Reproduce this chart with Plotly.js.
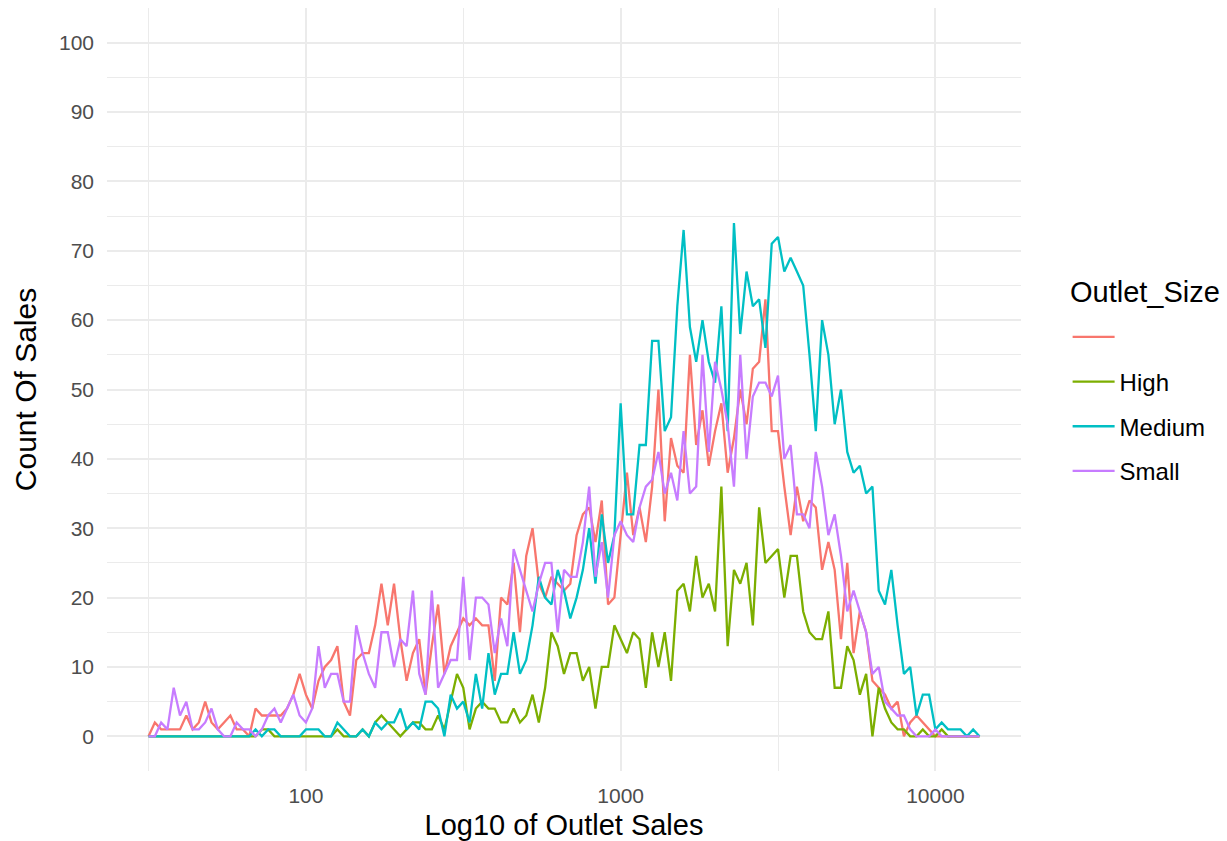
<!DOCTYPE html>
<html>
<head>
<meta charset="utf-8">
<script src="https://cdn.plot.ly/plotly-3.0.1.min.js"></script>
<style>html,body{margin:0;padding:0;background:#fff;}#chart{width:1227px;height:841px;}</style>
</head>
<body>
<div id="chart"></div>
<script>
// Frequency polygon of log10(Item_Outlet_Sales), binwidth 0.02 in log10 units
const binLogStart = 1.50;   // centre of first (empty padding) bin, log10 units
const binLogWidth = 0.02;

const outletSizes = ['', 'High', 'Medium', 'Small'];
const legendTitle = 'Outlet_Size';

const countBlank = [
  0,2,1,1,1,1,3,1,2,5,
  2,1,2,3,1,1,0,4,3,3,
  3,3,4,6,9,6,4,8,10,11,
  13,5,3,11,12,12,16,22,16,22,
  14,8,12,14,6,13,19,9,13,15,
  17,16,17,16,16,8,20,19,25,15,
  26,30,22,20,23,22,21,22,29,32,
  33,28,34,19,20,29,38,29,33,28,
  36,50,31,43,39,38,55,42,47,39,
  44,48,38,43,50,45,53,54,63,44,
  44,36,29,36,31,34,33,24,28,24,
  14,25,12,18,15,8,7,6,4,5,
  0,2,3,2,1,0,0,0,0,0,
  0,0,0
];
const countHigh = [
  0,0,0,0,0,0,0,0,0,0,
  0,0,0,0,0,0,0,0,1,1,
  0,0,0,0,0,0,0,0,0,0,
  1,0,0,0,1,0,2,3,2,1,
  0,1,2,2,1,1,3,1,5,9,
  7,1,4,5,4,4,2,2,4,2,
  3,6,2,7,15,13,9,12,12,8,
  10,4,10,10,16,14,12,15,14,7,
  15,10,15,8,21,22,18,26,20,22,
  18,36,13,24,22,25,16,33,25,26,
  27,20,26,26,18,15,14,14,18,7,
  7,13,11,6,9,0,7,4,2,1,
  1,0,0,1,0,0,1,0,0,0,
  0,0,0
];
const countMedium = [
  0,0,0,0,0,0,0,0,0,0,
  0,0,0,0,0,0,0,1,0,1,
  1,0,0,0,0,1,1,1,0,0,
  2,1,0,0,1,0,2,1,2,2,
  4,1,2,1,5,5,4,0,6,4,
  5,2,9,4,12,6,9,9,15,9,
  11,16,23,20,19,24,21,17,20,24,
  30,22,32,25,29,48,32,32,42,42,
  57,57,44,46,62,73,59,54,60,54,
  51,62,44,74,58,67,62,63,56,71,
  72,67,69,67,65,55,44,60,55,45,
  50,41,38,39,35,36,21,19,24,16,
  9,10,3,6,6,1,2,1,1,1,
  0,1,0
];
const countSmall = [
  0,0,2,1,7,3,5,1,1,2,
  4,1,0,0,2,1,1,0,1,3,
  4,2,4,6,3,2,4,13,7,9,
  9,5,5,16,12,9,7,15,15,10,
  14,13,21,9,6,21,7,9,11,11,
  23,11,20,20,19,12,17,13,27,24,
  21,18,22,25,25,15,24,23,23,28,
  36,23,28,20,29,31,29,28,33,36,
  37,41,35,38,34,44,35,36,55,41,
  54,50,45,36,55,40,49,51,51,49,
  52,40,42,32,32,30,41,36,29,32,
  26,18,21,18,15,9,10,5,4,3,
  3,1,0,0,0,1,0,0,0,0,
  0,0,0
];

const xTickVals = [100, 1000, 10000];
const xTickText = ['100', '1000', '10000'];
const yTickVals = [0, 10, 20, 30, 40, 50, 60, 70, 80, 90, 100];

const seriesCounts = [countBlank, countHigh, countMedium, countSmall];
const seriesColors = ['#F8766D', '#7CAE00', '#00BFC4', '#C77CFF'];

const binCentres = countBlank.map((_, i) => Math.pow(10, binLogStart + i * binLogWidth));

const traces = outletSizes.map((name, k) => ({
  type: 'scatter',
  mode: 'lines',
  name: name,
  legendgroup: 'g' + k,
  x: binCentres,
  y: seriesCounts[k],
  line: {color: seriesColors[k], width: 2.3},
  hoverinfo: 'x+y+name'
}));

const minorX = [1.5, 2.5, 3.5].map(v => Math.pow(10, v));
const minorY = [];
for (let v = -5; v <= 105; v += 10) minorY.push(v);

const font = 'Liberation Sans, Arial, Helvetica, sans-serif';

const layout = {
  width: 1227,
  height: 841,
  margin: {l: 107, r: 206, t: 8, b: 70, pad: 0},
  paper_bgcolor: '#ffffff',
  plot_bgcolor: '#ffffff',
  font: {family: font, color: '#000000'},
  showlegend: true,
  xaxis: {
    type: 'log',
    range: [1.368, 4.272],
    tickmode: 'array',
    tickvals: xTickVals,
    ticktext: xTickText,
    ticks: '',
    ticklabelstandoff: 10,
    tickfont: {size: 21, color: '#4d4d4d', family: font},
    showgrid: true,
    gridcolor: '#ebebeb',
    gridwidth: 2,
    zeroline: false,
    showline: false,
    minor: {tickmode: 'array', tickvals: minorX, showgrid: true, gridcolor: '#ebebeb', gridwidth: 1, ticks: ''},
    title: {text: 'Log10 of Outlet Sales', font: {size: 29, color: '#000000', family: font}, standoff: 9}
  },
  yaxis: {
    range: [-5, 105],
    tickmode: 'array',
    tickvals: yTickVals,
    ticks: '',
    ticklabelstandoff: 12,
    tickfont: {size: 21, color: '#4d4d4d', family: font},
    showgrid: true,
    gridcolor: '#ebebeb',
    gridwidth: 2,
    zeroline: false,
    showline: false,
    minor: {tickmode: 'array', tickvals: minorY, showgrid: true, gridcolor: '#ebebeb', gridwidth: 1, ticks: ''},
    title: {text: 'Count Of Sales', font: {size: 30, color: '#000000', family: font}, standoff: 13}
  },
  legend: {
    x: 1.051,
    xanchor: 'left',
    y: 0.598,
    yanchor: 'top',
    bgcolor: 'rgba(0,0,0,0)',
    borderwidth: 0,
    font: {size: 24, color: '#000000', family: font},
    tracegroupgap: 10.5,
    itemwidth: 42
  },
  annotations: [{
    text: legendTitle,
    xref: 'paper', yref: 'paper',
    x: 1.0514, xanchor: 'left',
    y: 0.6278, yanchor: 'middle',
    showarrow: false,
    font: {size: 29, color: '#000000', family: font}
  }]
};

Plotly.newPlot('chart', traces, layout, {displayModeBar: false, staticPlot: true});
</script>
</body>
</html>
